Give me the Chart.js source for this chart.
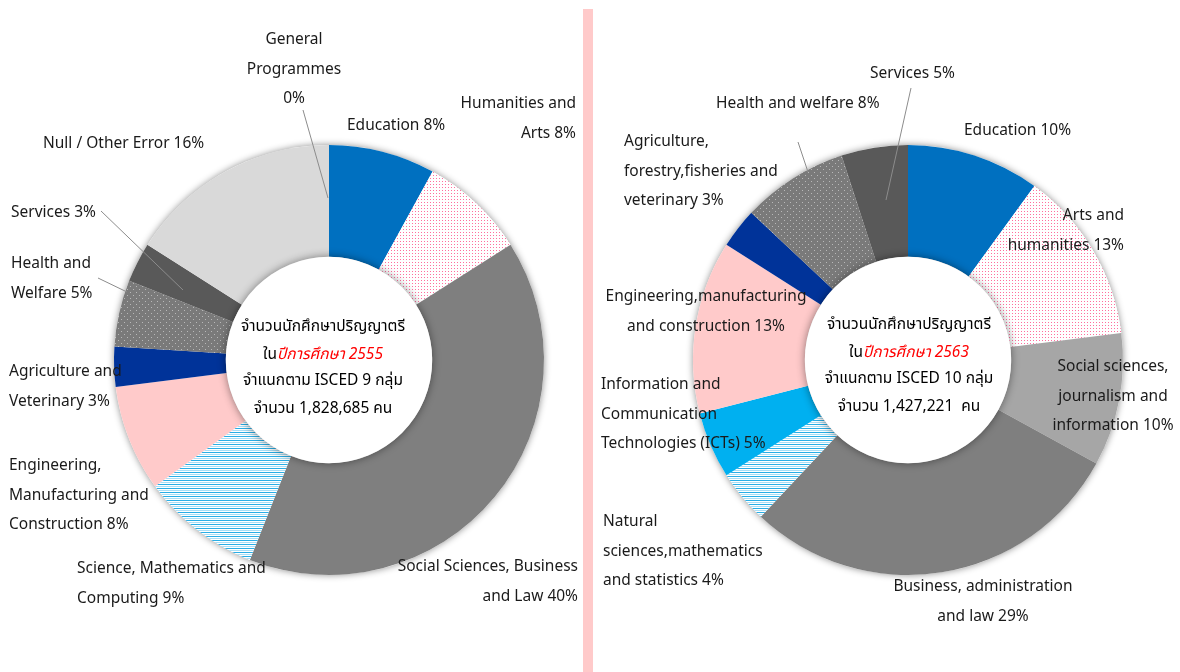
<!DOCTYPE html>
<html><head><meta charset="utf-8">
<script src="https://cdn.jsdelivr.net/npm/chart.js@4"></script>
<style>
body{margin:0;width:1180px;height:672px;background:#fff;position:relative;overflow:hidden}
canvas{position:absolute;left:0;top:0}
#divider{position:absolute;left:583px;top:9px;width:10px;height:663px;background:#ffcaca}
</style></head><body>
<div id="divider"></div>
<canvas id="c1" width="1180" height="672"></canvas>
<canvas id="c2" width="1180" height="672"></canvas>
<script>
// ---- data ----
const leftCategories = ['Education','Humanities and Arts','Social Sciences, Business and Law','Science, Mathematics and Computing','Engineering, Manufacturing and Construction','Agriculture and Veterinary','Health and Welfare','Services','Null / Other Error','General Programmes'];
const leftValues = [8, 8, 40, 9, 8, 3, 5, 3, 16, 0];
const rightCategories = ['Education','Arts and humanities','Social sciences, journalism and information','Business, administration and law','Natural sciences, mathematics and statistics','Information and Communication Technologies (ICTs)','Engineering, manufacturing and construction','Agriculture, forestry, fisheries and veterinary','Health and welfare','Services'];
const rightValues = [10, 13, 10, 29, 4, 5, 13, 3, 8, 5];

const leftLabelLines = [['Education 8%'],['Humanities and','Arts 8%'],['Social Sciences, Business','and Law 40%'],['Science, Mathematics and','Computing 9%'],['Engineering,','Manufacturing and','Construction 8%'],['Agriculture and','Veterinary 3%'],['Health and','Welfare 5%'],['Services 3%'],['Null / Other Error 16%'],['General','Programmes','0%']];
const rightLabelLines = [['Education 10%'],['Arts and','humanities 13%'],['Social sciences,','journalism and','information 10%'],['Business, administration','and law 29%'],['Natural','sciences,mathematics','and statistics 4%'],['Information and','Communication','Technologies (ICTs) 5%'],['Engineering,manufacturing','and construction 13%'],['Agriculture,','forestry,fisheries and','veterinary 3%'],['Health and welfare 8%'],['Services 5%']];

const leftCenter = ['จำนวนนักศึกษาปริญญาตรี', ['ใน','ปีการศึกษา 2555'], 'จำแนกตาม ISCED 9 กลุ่ม', 'จำนวน 1,828,685 คน'];
const rightCenter = ['จำนวนนักศึกษาปริญญาตรี', ['ใน','ปีการศึกษา 2563'], 'จำแนกตาม ISCED 10 กลุ่ม', 'จำนวน 1,427,221  คน'];

// ---- layout (positions / styles) ----
const leftLabelPos = [[347,126,'left'],[576,104,'right'],[578,567,'right'],[77,569,'left'],[9,466,'left'],[9,372,'left'],[11,264,'left'],[11,213,'left'],[43,144,'left'],[294,40,'center']];
const rightLabelPos = [[964,131,'left'],[1124,216,'right'],[1113,367,'center'],[983,587,'center'],[603,522,'left'],[601,385,'left'],[706,297,'center'],[624,142,'left'],[716,104,'left'],[870,74,'left']];
const leftLeaders = [[[303,110],[328,198]],[[101,211],[183,290]],[[98,278],[127,292]]];
const rightLeaders = [[[911,88],[886,200]],[[798,142],[808,172]]];

function makePattern(kind){
  const c=document.createElement('canvas');
  const x=c.getContext('2d');
  if(kind==='pinkdots'){
    c.width=3;c.height=3;
    x.fillStyle='#ffffff';x.fillRect(0,0,3,3);
    x.fillStyle='#ff6f9e';x.fillRect(1,1,1,1);
  } else if(kind==='stripes'){
    c.width=4;c.height=4;
    x.fillStyle='#ffffff';x.fillRect(0,0,4,4);
    x.fillStyle='#2aaee6';x.fillRect(0,0,4,1);
    x.fillStyle='#a8def5';x.fillRect(0,2,4,1);
  } else if(kind==='graydots'){
    c.width=6;c.height=6;
    x.fillStyle='#7a7a7a';x.fillRect(0,0,6,6);
    x.fillStyle='#b8b8b8';x.fillRect(1,1,1,1);x.fillRect(4,4,1,1);
  }
  return x.createPattern(c,'repeat');
}
const pinkDots=makePattern('pinkdots'), stripes=makePattern('stripes'), grayDots=makePattern('graydots');

const leftColors=['#0070c0',pinkDots,'#7f7f7f',stripes,'#ffcaca','#003399',grayDots,'#595959','#d9d9d9','#bfbfbf'];
const rightColors=['#0070c0',pinkDots,'#a6a6a6','#7f7f7f',stripes,'#00b0f0','#ffcaca','#003399',grayDots,'#595959'];

const FONT='"Noto Sans","Open Sans","Noto Sans Thai","Leelawadee UI",Tahoma,sans-serif';

const decor={
  id:'decor',
  beforeDatasetsDraw(chart){
    const a=chart.getDatasetMeta(0).data[0]; const ctx=chart.ctx;
    ctx.save();
    ctx.shadowColor='rgba(0,0,0,0.45)';ctx.shadowBlur=7;
    ctx.fillStyle='#ffffff';
    ctx.beginPath();ctx.arc(a.x,a.y,a.outerRadius,0,Math.PI*2);ctx.fill();
    ctx.restore();
  },
  afterDatasetsDraw(chart,args,o){
    const a=chart.getDatasetMeta(0).data[0]; const ctx=chart.ctx;
    ctx.save();
    ctx.shadowColor='rgba(0,0,0,0.45)';ctx.shadowBlur=8;
    ctx.fillStyle='#ffffff';
    ctx.beginPath();ctx.arc(a.x,a.y,a.innerRadius,0,Math.PI*2);ctx.fill();
    ctx.restore();
    ctx.save();
    ctx.textBaseline='middle';
    const cx=a.x+o.centerDx, lines=o.center, dys=o.centerDy;
    const cf='15.5px '+FONT, cfi='italic 15.5px '+FONT;
    lines.forEach((ln,i)=>{
      const y=a.y+dys[i];
      if(Array.isArray(ln)){
        ctx.font=cf; const w1=ctx.measureText(ln[0]).width;
        ctx.font=cfi; const w2=ctx.measureText(ln[1]).width;
        let x=cx-(w1+w2)/2;
        ctx.textAlign='left';
        ctx.font=cf;ctx.fillStyle='#000';ctx.fillText(ln[0],x,y);
        ctx.font=cfi;ctx.fillStyle='#ff0000';ctx.fillText(ln[1],x+w1,y);
      } else {
        ctx.font=cf;ctx.fillStyle='#000';ctx.textAlign='center';
        ctx.fillText(ln,cx,y);
      }
    });
    ctx.strokeStyle='#8c8c8c';ctx.lineWidth=1;
    o.leaders.forEach(l=>{ctx.beginPath();ctx.moveTo(l[0][0],l[0][1]);ctx.lineTo(l[1][0],l[1][1]);ctx.stroke();});
    ctx.font='15.5px '+FONT;ctx.fillStyle='#1a1a1a';
    o.labels.forEach((lines,i)=>{
      const p=o.pos[i]; ctx.textAlign=p[2];
      lines.forEach((t,j)=>ctx.fillText(t,p[0],p[1]+j*29.5));
    });
    ctx.restore();
  }
};

function make(id,cats,vals,colors,pad,cutout,opts){
  return new Chart(document.getElementById(id),{
    type:'doughnut',
    data:{labels:cats,datasets:[{data:vals,backgroundColor:colors,borderWidth:0,hoverOffset:0}]},
    options:{
      responsive:false,animation:false,cutout:cutout,
      layout:{padding:pad},
      plugins:{legend:{display:false},tooltip:{enabled:false},decor:opts},
      events:[]
    },
    plugins:[decor]
  });
}
make('c1',leftCategories,leftValues,leftColors,{left:114,right:636,top:145,bottom:97},'48%',
  {center:leftCenter,centerDx:-6,centerDy:[-33,-5,21,49],labels:leftLabelLines,pos:leftLabelPos,leaders:leftLeaders});
make('c2',rightCategories,rightValues,rightColors,{left:693,right:57,top:145,bottom:97},'48%',
  {center:rightCenter,centerDx:1,centerDy:[-35,-7,19,47],labels:rightLabelLines,pos:rightLabelPos,leaders:rightLeaders});
</script>
</body></html>
